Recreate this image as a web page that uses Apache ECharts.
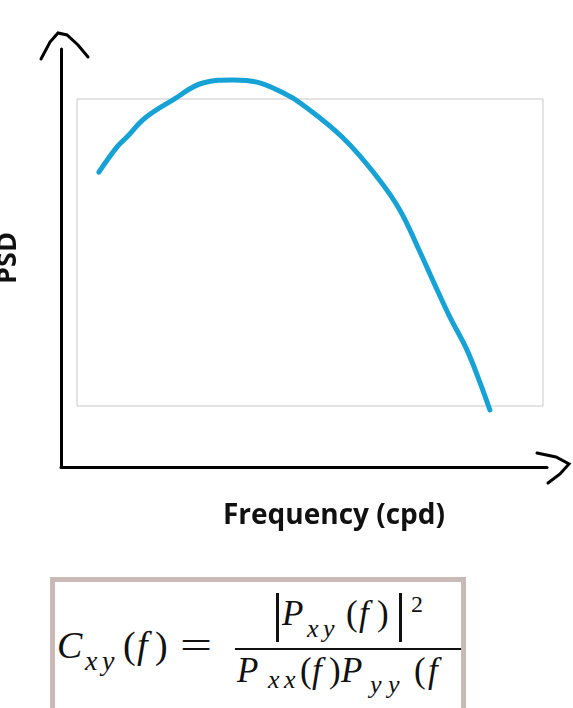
<!DOCTYPE html>
<html>
<head>
<meta charset="utf-8">
<script src="https://cdn.jsdelivr.net/npm/echarts@6/dist/echarts.min.js"></script>
<style>
  html, body { margin: 0; padding: 0; background: #fff; overflow: hidden; }
  #chart { width: 573px; height: 708px; position: absolute; left: 0; top: 0; }
  #formula {
    position: absolute; left: 50px; top: 577px; width: 406px; height: 200px;
    border: 5px solid #c9b9b8; overflow: hidden; background: #fff;
  }
  .f { position: absolute; font-family: 'Liberation Serif', 'DejaVu Serif', serif;
       line-height: 1; color: #111; white-space: nowrap; }
  .i { font-style: italic; }
  .bar { position: absolute; background: #111; }
</style>
</head>
<body>
<div id="chart"></div>
<div id="formula">
  <!-- left side: C_xy(f) = -->
  <span class="f i" style="left:2px;top:44px;font-size:38px;">C</span>
  <span class="f i" style="left:30px;top:65px;font-size:28px;">x</span>
  <span class="f i" style="left:47px;top:65px;font-size:28px;">y</span>
  <span class="f" style="left:68px;top:44px;font-size:38px;">(</span>
  <span class="f i" style="left:82px;top:44px;font-size:38px;">f</span>
  <span class="f" style="left:100px;top:44px;font-size:38px;">)</span>
  <span class="f" style="left:125px;top:44px;font-size:38px;transform:scaleX(1.5);transform-origin:0 0;">=</span>

  <!-- numerator: |P_xy(f)|^2 -->
  <div class="bar" style="left:221px;top:11px;width:3px;height:49px;"></div>
  <span class="f i" style="left:227px;top:14px;font-size:35px;">P</span>
  <span class="f i" style="left:252px;top:34px;font-size:26px;">x</span>
  <span class="f i" style="left:268px;top:34px;font-size:26px;">y</span>
  <span class="f" style="left:291px;top:14px;font-size:35px;">(</span>
  <span class="f i" style="left:304px;top:14px;font-size:35px;">f</span>
  <span class="f" style="left:322px;top:14px;font-size:35px;">)</span>
  <div class="bar" style="left:344px;top:11px;width:3px;height:49px;"></div>
  <span class="f" style="left:356px;top:10px;font-size:24px;">2</span>

  <div class="bar" style="left:180px;top:66px;width:250px;height:2px;"></div>

  <!-- denominator: P_xx(f) P_yy(f), cut by the frame -->
  <span class="f i" style="left:182px;top:71px;font-size:35px;">P</span>
  <span class="f i" style="left:213px;top:85px;font-size:26px;">x</span>
  <span class="f i" style="left:229px;top:85px;font-size:26px;">x</span>
  <span class="f" style="left:245px;top:71px;font-size:35px;">(</span>
  <span class="f i" style="left:257px;top:71px;font-size:35px;">f</span>
  <span class="f" style="left:274px;top:71px;font-size:35px;">)</span>
  <span class="f i" style="left:286px;top:71px;font-size:35px;">P</span>
  <span class="f i" style="left:315px;top:90px;font-size:26px;">y</span>
  <span class="f i" style="left:333px;top:90px;font-size:26px;">y</span>
  <span class="f" style="left:359px;top:71px;font-size:35px;">(</span>
  <span class="f i" style="left:373px;top:71px;font-size:35px;">f</span>
</div>
<script>
// PSD curve (arbitrary units)
var freq = [0.47, 0.86, 1.07, 1.46, 2.06, 2.70, 3.35, 3.86, 4.42, 4.79,
            5.71, 6.44, 6.93, 7.34, 7.66, 8.00, 8.37, 8.65, 8.86];
var psd  = [0.762, 0.844, 0.876, 0.938, 0.997, 1.052, 1.062, 1.055, 1.020, 0.987,
            0.873, 0.746, 0.638, 0.508, 0.401, 0.290, 0.182, 0.075, -0.013];

var xName = 'Frequency (cpd)';
var yName = 'PSD';

var points = freq.map(function (f, i) { return [f, psd[i]]; });

var option = {
  animation: false,
  grid: [
    { left: 77, top: 99, width: 466, height: 307, show: true,
      borderColor: '#c8c8c8', borderWidth: 1, outerBoundsMode: 'none' },
    { left: 61, top: 49, right: 26, bottom: 241, outerBoundsMode: 'none' }
  ],
  xAxis: [
    { type: 'value', gridIndex: 0, min: 0, max: 10, show: false },
    { type: 'value', gridIndex: 1, min: 0, max: 1,
      axisLine: { show: true, lineStyle: { color: '#000', width: 3 } },
      axisTick: { show: false }, axisLabel: { show: false }, splitLine: { show: false },
      name: xName, nameLocation: 'middle', nameGap: 35,
      nameTextStyle: { fontFamily: 'Open Sans', fontWeight: 'bold', fontSize: 28,
                       color: '#111', padding: [0, 0, 0, 60] } }
  ],
  yAxis: [
    { type: 'value', gridIndex: 0, min: 0, max: 1, show: false },
    { type: 'value', gridIndex: 1, min: 0, max: 1,
      axisLine: { show: true, lineStyle: { color: '#000', width: 3 } },
      axisTick: { show: false }, axisLabel: { show: false }, splitLine: { show: false },
      name: yName, nameLocation: 'middle', nameGap: 39,
      nameTextStyle: { fontFamily: 'Open Sans', fontWeight: 'bold', fontSize: 27, color: '#111' } }
  ],
  series: [
    {
      type: 'line',
      xAxisIndex: 0,
      yAxisIndex: 0,
      data: points,
      smooth: 0.4,
      clip: false,
      showSymbol: false,
      lineStyle: { color: '#17a2d6', width: 5, cap: 'round', join: 'round' }
    }
  ],
  graphic: [
    // hand drawn arrow heads
    { type: 'polyline', smooth: 0.5,
      shape: { points: [[41, 59], [50, 42], [58, 33], [67, 35], [78, 45], [88, 57]] },
      style: { stroke: '#000', lineWidth: 3, fill: null, lineCap: 'round' } },
    { type: 'polyline', smooth: 0.5,
      shape: { points: [[537, 453], [556, 457], [569, 464], [560, 474], [548, 483]] },
      style: { stroke: '#000', lineWidth: 3, fill: null, lineCap: 'round' } }
  ]
};

var chart = echarts.init(document.getElementById('chart'), null, { renderer: 'canvas' });
chart.setOption(option);
</script>
</body>
</html>
